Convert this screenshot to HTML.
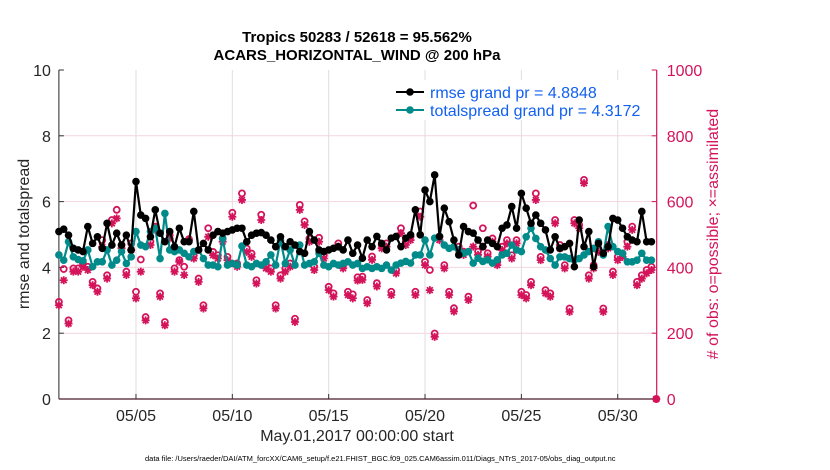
<!DOCTYPE html>
<html><head><meta charset="utf-8"><style>
body{margin:0;background:#fff;}
svg{display:block;font-family:"Liberation Sans",sans-serif;}
</style></head><body>
<svg id="chart" width="830" height="470" viewBox="0 0 830 470" xmlns="http://www.w3.org/2000/svg">
<g id="grid"></g><g id="axes"></g><g id="marks"></g><g id="labels"></g>
</svg>
<script>
const rmse=[5.09,5.16,4.98,4.58,4.53,4.48,5.24,4.73,4.93,4.58,5.34,4.68,5.04,4.68,4.98,4.53,6.61,5.59,5.49,4.93,5.75,5.04,4.78,5.09,4.63,5.19,4.78,4.78,5.70,4.53,4.73,4.53,
4.98,5.09,5.04,5.09,5.14,5.19,5.19,4.78,4.98,5.04,5.06,4.98,4.83,4.63,4.93,4.63,4.78,4.68,4.48,4.43,5.09,4.83,4.53,4.48,4.53,4.58,4.63,4.53,4.83,4.43,4.68,
4.28,4.83,4.63,4.94,4.73,4.53,4.89,4.94,4.63,4.89,4.99,5.75,4.99,6.35,6.0,6.81,4.94,5.80,5.39,4.83,4.38,5.24,5.09,5.04,4.83,4.63,4.83,4.73,4.63,5.19,5.29,
5.85,5.19,6.25,5.80,5.34,5.59,5.34,5.14,4.53,4.93,4.58,4.63,4.73,4.02,5.44,4.63,5.09,4.02,4.73,4.43,4.63,5.49,5.44,5.19,4.93,4.83,4.78,5.70,4.78,4.78];
const spread=[4.38,4.22,4.78,4.32,4.24,4.20,4.53,4.02,4.17,4.17,4.53,4.07,4.22,4.48,4.12,4.32,5.09,4.68,4.63,5.09,5.19,4.27,5.64,4.53,4.48,4.53,4.43,4.32,4.48,4.53,4.27,4.07,
4.07,4.02,4.88,4.07,4.12,4.07,4.65,4.07,4.02,4.12,4.07,4.17,4.38,4.07,4.83,4.12,4.53,4.07,4.68,4.07,4.12,4.17,4.43,4.07,4.02,4.12,4.07,4.12,4.17,4.07,4.12,
3.97,4.02,3.97,4.02,3.97,4.07,3.92,4.07,4.13,4.18,4.13,4.38,4.38,4.83,4.38,4.89,4.94,4.68,4.58,4.63,4.53,4.43,4.48,4.13,4.28,4.18,4.23,4.13,4.23,4.38,4.43,
4.68,4.53,4.48,4.93,5.19,4.88,4.63,4.53,4.27,4.07,4.32,4.32,4.27,4.22,4.27,4.38,4.48,4.58,4.78,4.38,5.24,4.63,4.48,4.43,4.17,4.17,4.22,4.43,4.22,4.22];
const assimilated=[285,361,229,387,387,402,392,346,326,463,366,534,549,458,377,453,306,387,239,468,514,311,224,488,387,417,377,483,427,356,275,493,
437,427,478,422,554,402,605,447,432,351,544,397,387,275,366,387,402,234,575,529,478,392,478,427,331,311,463,397,316,306,360,
362,291,423,342,458,463,316,382,504,468,483,316,554,407,331,189,483,397,316,266,453,438,301,463,438,463,433,478,407,453,473,
427,473,316,306,346,605,422,321,311,534,458,397,265,534,519,656,366,397,447,265,458,377,422,432,463,514,346,366,382,392,0];
const possible=[295,395,239,397,397,412,402,356,336,483,376,544,575,468,387,473,326,424,249,478,524,321,234,498,397,422,402,486,437,366,285,519,
447,437,488,432,566,412,625,457,442,361,560,407,397,285,376,397,412,244,590,540,488,402,490,437,341,321,473,407,326,318,370,
372,301,433,352,468,473,326,392,519,478,493,326,570,417,392,199,493,407,326,276,463,448,311,588,448,519,443,488,417,463,483,
437,483,326,316,356,625,432,331,321,544,468,407,275,544,529,666,376,407,457,275,468,387,432,442,478,524,356,376,392,402,0];
const yTicks=[0,2,4,6,8,10];
const rTicks=[0,200,400,600,800,1000];
const xTickLabels=["05/05","05/10","05/15","05/20","05/25","05/30"];
const xTickDays=[4,9,14,19,24,29];

const NS="http://www.w3.org/2000/svg";
const X0=58.9,PXD=19.27,Y0=399,PYU=32.9,XR=656.7,YT=70;
const xs=i=>X0+i*0.25*PXD;
const xd=d=>X0+d*PXD;
const yl=v=>Y0-v*PYU;
const yr=c=>Y0-c/100*PYU;
const PINK="#d4145a",TEAL="#008a8a";
function mk(tag,attrs,parent){const e=document.createElementNS(NS,tag);for(const k in attrs)e.setAttribute(k,attrs[k]);parent.appendChild(e);return e;}
const grid=document.getElementById('grid'),axes=document.getElementById('axes'),marks=document.getElementById('marks'),labels=document.getElementById('labels');

xTickDays.forEach((d,k)=>{
  const g=mk('line',{x1:xd(d),x2:xd(d),y1:YT,y2:Y0,stroke:'#dedede','stroke-width':1},grid);
  
  
  const t=mk('line',{x1:xd(d),x2:xd(d),y1:Y0,y2:Y0-5,stroke:'#333','stroke-width':1},axes);
  
  
  const l=mk('text',{x:xd(d),y:Y0+22,'text-anchor':'middle','font-size':16,fill:'#262626'},labels);
  l.textContent=xTickLabels[k];
  
  
});
rTicks.forEach(c=>{
  if(c>0&&c<1000){const g=mk('line',{x1:X0,x2:XR,y1:yr(c),y2:yr(c),stroke:'#f2d6e0','stroke-width':1},grid);
  
  }
  const t=mk('line',{x1:XR,x2:XR-5,y1:yr(c),y2:yr(c),stroke:PINK,'stroke-width':1},axes);
  
  
  const l=mk('text',{x:XR+10,y:yr(c)+6,'font-size':16,fill:PINK},labels);
  l.textContent=c;
  
  
});
yTicks.forEach(v=>{
  const t=mk('line',{x1:X0,x2:X0+5,y1:yl(v),y2:yl(v),stroke:'#333','stroke-width':1},axes);
  
  
  const l=mk('text',{x:X0-8,y:yl(v)+6,'text-anchor':'end','font-size':16,fill:'#262626'},labels);
  l.textContent=v;
  
  
});
let a=mk('line',{x1:X0,x2:X0,y1:YT,y2:Y0,stroke:'#262626','stroke-width':1},axes);


a=mk('line',{x1:X0,x2:XR,y1:Y0,y2:Y0,stroke:'#4a1a2a','stroke-width':1.2},axes);


a=mk('line',{x1:XR,x2:XR,y1:YT,y2:Y0,stroke:PINK,'stroke-width':1.2},axes);



possible.forEach((c,i)=>{
  const e=mk('circle',{cx:xs(i),cy:yr(c),r:3,fill:'none',stroke:PINK,'stroke-width':1.8},marks);
  
  
});
assimilated.forEach((c,i)=>{
  const x=xs(i),y=yr(c),s=4,d=2.9;
  const e=mk('path',{d:`M${x-s},${y}H${x+s}M${x},${y-s}V${y+s}M${x-d},${y-d}L${x+d},${y+d}M${x-d},${y+d}L${x+d},${y-d}`,stroke:PINK,'stroke-width':1.8,fill:'none'},marks);
  
  
});
function series(arr,color,name){
  const p=mk('polyline',{points:arr.map((v,i)=>xs(i)+','+yl(v)).join(' '),fill:'none',stroke:color,'stroke-width':2.2},marks);
  
  
  arr.forEach((v,i)=>{
    const c=mk('circle',{cx:xs(i),cy:yl(v),r:3.8,fill:color},marks);
    
    
  });
}
series(spread,TEAL,'totalspread');
series(rmse,'#000','rmse');
</script>
<svg style="position:absolute;left:0;top:0" width="830" height="470">
<text x="357" y="42" text-anchor="middle" font-size="15" font-weight="bold" fill="#000" font-family="Liberation Sans, sans-serif">Tropics 50283 / 52618 = 95.562%</text>
<text x="357" y="60" text-anchor="middle" font-size="15" font-weight="bold" fill="#000" font-family="Liberation Sans, sans-serif">ACARS_HORIZONTAL_WIND @ 200 hPa</text>
<text transform="translate(29,234) rotate(-90)" text-anchor="middle" font-size="16" fill="#262626" font-family="Liberation Sans, sans-serif">rmse and totalspread</text>
<text transform="translate(718,234) rotate(-90)" text-anchor="middle" font-size="16" fill="#d4145a" font-family="Liberation Sans, sans-serif"># of obs: o=possible; ×=assimilated</text>
<text x="357" y="441" text-anchor="middle" font-size="16" fill="#262626" font-family="Liberation Sans, sans-serif">May.01,2017 00:00:00 start</text>
<text x="145" y="461" font-size="7.5" fill="#000" font-family="Liberation Sans, sans-serif">data file: /Users/raeder/DAI/ATM_forcXX/CAM6_setup/f.e21.FHIST_BGC.f09_025.CAM6assim.011/Diags_NTrS_2017-05/obs_diag_output.nc</text>
<g>
<rect x="392" y="80" width="260" height="40" fill="#fff"/>
<line x1="396" y1="92" x2="424" y2="92" stroke="#000" stroke-width="2"/><circle cx="410" cy="92" r="3.8" fill="#000"/>
<text x="430" y="98" font-size="16" fill="#1160f0" font-family="Liberation Sans, sans-serif">rmse grand pr = 4.8848</text>
<line x1="396" y1="110" x2="424" y2="110" stroke="#008a8a" stroke-width="2"/><circle cx="410" cy="110" r="3.8" fill="#008a8a"/>
<text x="430" y="116" font-size="16" fill="#1160f0" font-family="Liberation Sans, sans-serif">totalspread grand pr = 4.3172</text>
</g>
</svg>
</body></html>
